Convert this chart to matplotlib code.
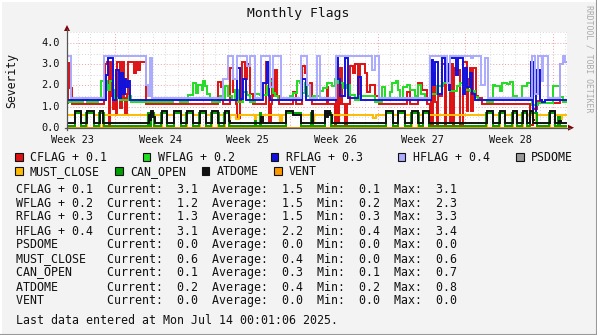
import numpy as np
import matplotlib
matplotlib.use("Agg")
import matplotlib.pyplot as plt
from matplotlib.patches import Rectangle, Polygon
from matplotlib.lines import Line2D

# ---- data (x = days since left edge of the graph, steps) ----
END = 39.9

hflag = [(0, 3.4), (0.3, 1.4), (2.95, 3.4), (6.32, 2.0), (6.45, 1.5), (6.62, 3.3), (6.8, 1.4),
         (12.45, 2.3), (12.9, 3.4), (13.3, 2.3), (13.57, 3.4), (14.43, 2.9), (14.65, 3.4),
         (15.05, 1.4), (15.55, 3.4), (16.24, 1.9), (16.5, 3.4), (17.15, 1.4), (18.72, 3.4),
         (19.17, 2.0), (19.45, 1.4), (19.97, 3.4), (20.2, 1.4), (21.52, 3.4), (24.37, 2.7),
         (24.62, 3.4), (24.95, 1.4), (29.04, 3.4), (30.37, 2.1), (30.6, 3.4), (32.3, 3.3),
         (32.45, 3.4), (33.1, 2.0), (33.42, 3.3), (33.65, 1.4), (37.17, 3.4), (37.44, 1.6),
         (37.68, 3.4), (37.97, 2.2), (38.1, 3.4), (38.45, 1.4), (39.45, 3.0), (39.68, 3.4),
         (39.8, 3.1)]

rflag = [(0, 1.32), (3.15, 2.5), (3.25, 3.3), (3.7, 1.3), (3.92, 2.7), (4.15, 1.4), (4.35, 2.6),
         (4.5, 1.6), (4.6, 2.3), (4.75, 1.9), (4.9, 2.2), (5.0, 1.32), (13.57, 2.8), (13.84, 1.35),
         (14.1, 2.3), (14.35, 1.32), (15.7, 2.1), (15.97, 3.1), (16.15, 1.5), (16.25, 1.32),
         (18.77, 2.3), (19.1, 1.32), (21.52, 3.3), (21.65, 2.3), (21.8, 1.5), (22.24, 3.3),
         (22.5, 1.4), (23.3, 2.4), (23.5, 1.32), (29.1, 3.2), (29.3, 2.0), (29.45, 3.1),
         (29.7, 1.6), (29.97, 3.3), (30.2, 2.2), (30.37, 3.0), (30.55, 1.8), (30.64, 3.3),
         (31.15, 2.5), (31.3, 3.3), (31.7, 1.6), (31.85, 2.8), (32.0, 1.9), (32.2, 2.6),
         (32.4, 1.6), (32.6, 1.32), (37.09, 3.1), (37.25, 0.35), (37.5, 2.7), (37.84, 1.3),
         (38.0, 1.2), (38.2, 1.32)]

cflag = [(0, 1.15), (0.1, 3.05), (0.25, 1.85), (0.42, 1.1), (2.92, 1.5), (3.05, 3.0), (3.2, 3.1),
         (3.35, 0.1), (3.42, 3.1), (3.55, 1.5), (3.7, 0.9), (3.85, 1.4), (3.95, 0.6), (4.02, 3.1),
         (4.2, 0.95), (4.4, 3.1), (4.55, 1.4), (4.64, 0.7), (4.8, 1.6), (4.9, 3.1), (5.36, 2.6),
         (5.52, 3.1), (5.7, 2.7), (5.8, 3.1), (6.3, 1.1), (12.1, 2.15), (12.35, 1.9), (12.5, 1.1),
         (13.04, 2.8), (13.25, 1.7), (13.5, 1.1), (13.63, 0.45), (13.84, 1.3), (13.97, 3.1),
         (14.24, 2.3), (14.43, 3.0), (14.64, 1.6), (14.9, 1.1), (15.95, 3.1), (16.15, 0.3),
         (16.3, 1.1), (16.37, 2.3), (16.55, 1.5), (16.64, 2.7), (16.8, 1.5), (16.95, 1.1),
         (18.1, 1.7), (18.3, 1.1), (18.77, 2.9), (19.04, 2.6), (19.17, 1.5), (19.45, 2.1),
         (19.6, 1.1), (20.77, 1.9), (20.9, 1.1), (21.44, 0.15), (21.55, 3.1), (21.65, 0.2),
         (21.75, 1.1), (21.84, 2.8), (21.97, 1.1), (22.24, 0.15), (22.37, 1.1), (22.64, 2.9),
         (22.9, 2.6), (23.05, 3.0), (23.3, 1.6), (23.45, 3.0), (23.84, 2.6), (23.97, 1.7),
         (24.24, 2.0), (24.64, 1.5), (24.95, 1.1), (27.17, 1.7), (27.44, 1.1), (28.1, 2.1),
         (28.37, 1.8), (28.77, 1.1), (29.04, 0.15), (29.12, 3.1), (29.2, 0.15), (29.3, 2.6),
         (29.45, 1.2), (29.6, 0.15), (29.7, 1.5), (29.97, 3.0), (30.24, 0.15), (30.35, 2.2),
         (30.5, 3.0), (30.6, 0.2), (30.7, 3.0), (30.85, 0.15), (30.95, 2.8), (31.04, 2.7),
         (31.44, 0.15), (31.7, 3.1), (31.97, 0.8), (32.1, 2.3), (32.24, 2.8), (32.35, 0.8),
         (32.45, 2.8), (32.7, 1.5), (32.9, 1.4), (33.17, 1.1), (37.04, 0.15), (37.3, 0.9),
         (37.63, 1.25), (37.84, 1.15), (39.44, 3.0), (39.7, 3.1)]

wflag = [(0, 1.2), (1.3, 1.37), (1.57, 1.2), (2.5, 1.37), (2.7, 2.2), (3.17, 2.0), (3.3, 1.8),
         (3.44, 2.2), (3.65, 1.8), (3.85, 1.4), (4.2, 1.32), (4.98, 1.5), (5.15, 1.2), (8.5, 1.3),
         (9.0, 1.2), (9.71, 1.56), (10.1, 2.1), (10.29, 1.65), (10.5, 2.0), (10.77, 1.8),
         (10.9, 2.2), (11.04, 1.95), (11.17, 1.6), (11.4, 1.4), (11.57, 1.2), (12.2, 1.5),
         (12.37, 1.32), (12.64, 1.95), (12.85, 1.5), (13.17, 1.32), (13.44, 1.8), (13.7, 1.2),
         (14.1, 1.7), (14.37, 1.55), (14.64, 1.2), (15.04, 1.6), (15.44, 1.55), (15.97, 1.95),
         (16.2, 2.2), (16.45, 1.65), (16.64, 1.5), (16.9, 1.32), (17.84, 1.48), (18.1, 1.65),
         (18.4, 2.2), (18.64, 2.1), (18.77, 1.65), (19.04, 2.1), (19.17, 1.48), (19.44, 1.4),
         (19.7, 1.48), (20.24, 1.72), (20.5, 1.87), (20.77, 2.1), (21.17, 1.95), (21.44, 2.3),
         (21.7, 2.1), (22.1, 1.87), (22.37, 2.0), (22.64, 1.56), (23.04, 1.32), (23.44, 1.48),
         (24.64, 1.2), (25.2, 1.9), (25.44, 1.3), (25.84, 1.7), (26.0, 2.1), (26.3, 2.2),
         (26.5, 1.8), (26.64, 1.4), (26.9, 1.9), (27.2, 2.0), (27.44, 1.8), (27.84, 1.5),
         (28.05, 2.0), (28.3, 1.6), (28.6, 1.32), (29.04, 1.6), (29.57, 1.95), (30.1, 2.1),
         (30.64, 1.75), (31.17, 1.95), (31.44, 2.1), (31.7, 1.8), (32.24, 1.72), (32.64, 1.45),
         (32.9, 1.32), (33.57, 1.22), (34.1, 2.0), (34.24, 1.95), (34.64, 1.75), (34.77, 2.1),
         (35.2, 2.05), (35.4, 2.15), (35.7, 1.5), (35.97, 1.32), (36.37, 1.95), (36.77, 2.1),
         (37.17, 1.05), (37.7, 1.16), (38.9, 1.95), (39.44, 1.45), (39.7, 1.2)]

psdome = [(0, 0.0)]

must_close = [(0, 0.6), (0.64, 0.0), (1.1, 0.6), (1.57, 0.0), (2.15, 0.6), (2.6, 0.0), (2.9, 0.6),
              (6.55, 0.0), (7.0, 0.6), (7.57, 0.0), (8.0, 0.6), (8.56, 0.0), (9.1, 0.6),
              (9.57, 0.0), (10.05, 0.6), (10.6, 0.0), (11.1, 0.6), (11.57, 0.0), (12.1, 0.6),
              (12.6, 0.0), (13.0, 0.6), (13.55, 0.4), (13.75, 0.6), (15.0, 0.35), (15.1, 0.6),
              (15.5, 0.3), (15.65, 0.6), (17.0, 0.33), (17.17, 0.6), (17.55, 0.0), (18.7, 0.6),
              (19.55, 0.3), (19.75, 0.6), (20.64, 0.0), (21.17, 0.6), (24.5, 0.45), (24.7, 0.6),
              (25.5, 0.0), (26.05, 0.6), (26.5, 0.0), (27.04, 0.6), (27.57, 0.0), (28.1, 0.6),
              (28.5, 0.0), (28.95, 0.6), (33.57, 0.0), (34.05, 0.6), (34.6, 0.0), (35.04, 0.6),
              (35.65, 0.0), (35.97, 0.6), (36.45, 0.0), (36.77, 0.6), (37.3, 0.2), (37.55, 0.6),
              (38.6, 0.0), (39.04, 0.6), (39.45, 0.4), (39.6, 0.6)]

can_open = [(0, 0.1), (0.62, 0.7), (1.12, 0.1), (1.55, 0.7), (2.17, 0.1), (2.58, 0.7), (2.92, 0.1),
            (6.5, 0.7), (6.6, 0.1), (6.7, 0.7), (6.95, 0.1), (7.55, 0.7), (8.02, 0.1), (8.54, 0.7),
            (9.12, 0.1), (9.55, 0.7), (10.07, 0.1), (10.58, 0.7), (11.12, 0.1), (11.55, 0.7),
            (12.12, 0.1), (12.58, 0.7), (12.97, 0.1), (15.0, 0.3), (15.1, 0.1), (15.45, 0.7),
            (15.55, 0.1), (17.53, 0.7), (18.7, 0.1), (19.5, 0.7), (19.68, 0.1), (20.62, 0.7),
            (21.15, 0.1), (25.48, 0.7), (26.07, 0.1), (26.48, 0.7), (27.06, 0.1), (27.55, 0.7),
            (28.12, 0.1), (28.48, 0.7), (28.97, 0.1), (33.55, 0.7), (34.07, 0.1), (34.58, 0.7),
            (35.06, 0.1), (35.63, 0.7), (35.99, 0.1), (36.43, 0.7), (36.79, 0.1), (37.02, 0.7),
            (37.6, 0.1), (38.58, 0.7), (39.06, 0.1), (39.3, 0.5), (39.45, 0.1)]

atdome = [(0, 0.2), (0.64, 0.8), (1.1, 0.2), (1.57, 0.8), (2.15, 0.2), (2.6, 0.8), (2.9, 0.2),
          (6.55, 0.6), (6.65, 0.35), (6.75, 0.8), (6.85, 0.5), (7.0, 0.2), (7.57, 0.8), (8.0, 0.2),
          (8.56, 0.8), (9.1, 0.2), (9.57, 0.8), (10.05, 0.2), (10.6, 0.8), (11.1, 0.2),
          (11.57, 0.8), (12.1, 0.2), (12.6, 0.8), (12.95, 0.3), (13.05, 0.2), (15.5, 0.5),
          (15.65, 0.2), (17.55, 0.8), (18.1, 0.6), (18.7, 0.2), (19.57, 0.8), (19.7, 0.2),
          (20.64, 0.8), (20.8, 0.5), (20.9, 0.8), (21.04, 0.6), (21.17, 0.2), (25.5, 0.8),
          (26.05, 0.2), (26.5, 0.8), (27.04, 0.2), (27.57, 0.8), (28.1, 0.2), (28.5, 0.8),
          (28.95, 0.2), (33.57, 0.8), (34.05, 0.2), (34.6, 0.8), (35.04, 0.2), (35.65, 0.8),
          (35.97, 0.2), (36.45, 0.8), (36.77, 0.2), (37.04, 0.8), (37.25, 0.2), (38.6, 0.8),
          (39.04, 0.2), (39.35, 0.3), (39.55, 0.2)]

vent = [(0, 0.0)]

series_names = ["CFLAG + 0.1", "WFLAG + 0.2", "RFLAG + 0.3", "HFLAG + 0.4", "PSDOME",
                "MUST_CLOSE", "CAN_OPEN", "ATDOME", "VENT"]
series_data = [cflag, wflag, rflag, hflag, psdome, must_close, can_open, atdome, vent]
series_colors = ["#DD1111", "#22DD22", "#1111DD", "#AAAAFF", "#999999",
                 "#FFBB00", "#00A000", "#111111", "#FF9900"]
current = [3.1, 1.2, 1.3, 3.1, 0.0, 0.6, 0.1, 0.2, 0.0]
average = [1.5, 1.5, 1.5, 2.2, 0.0, 0.4, 0.3, 0.4, 0.0]
minimum = [0.1, 0.2, 0.3, 0.4, 0.0, 0.0, 0.1, 0.2, 0.0]
maximum = [3.1, 2.3, 3.3, 3.4, 0.0, 0.6, 0.7, 0.8, 0.0]

week_labels = ["Week 23", "Week 24", "Week 25", "Week 26", "Week 27", "Week 28"]
y_ticks = [0.0, 1.0, 2.0, 3.0, 4.0]

W, H = 597, 335
BG = "#F3F3F3"
MONO = "DejaVu Sans Mono"


def fx(x):
    return x / W


def fy(y):
    return 1 - y / H


fig = plt.figure(figsize=(W / 100, H / 100), dpi=100, facecolor=BG)

# plot area: x 67..567 px, y 32..127.7 px
x0, x1, ytop, ybot = 67, 567, 32.3, 127.7
ax = fig.add_axes([fx(x0), fy(ybot), (x1 - x0) / W, (ybot - ytop) / H])
ax.set_facecolor("white")
ax.set_xlim(0, 40)
ax.set_ylim(0, 4.5)
for s in ax.spines.values():
    s.set_visible(False)
ax.set_xticks([])
ax.set_yticks([])

# grid
minor_x = np.arange(0.87, 40, 1.0)
major_x = np.arange(3.87, 40, 7.0)
for d in minor_x:
    if not np.any(np.isclose(d, major_x)):
        ax.axvline(d, color="#D8D8D8", lw=0.7, ls=(0, (1, 2)), zorder=0)
for d in major_x:
    ax.axvline(d, color="#EFA0A0", lw=0.7, ls=(0, (1, 2)), zorder=0)
for v in np.arange(0.5, 4.6, 1.0):
    ax.axhline(v, color="#D8D8D8", lw=0.7, ls=(0, (1, 2)), zorder=0)
for v in [1.0, 2.0, 3.0, 4.0]:
    ax.axhline(v, color="#EFA0A0", lw=0.7, ls=(0, (1, 2)), zorder=0)

# series
for data, col in zip(series_data, series_colors):
    t = [p[0] for p in data] + [END]
    v = [p[1] for p in data] + [data[-1][1]]
    ax.plot(t, v, drawstyle="steps-post", color=col, lw=1.4, zorder=2,
            solid_joinstyle="miter")

# axes lines and arrows
fig.add_artist(Line2D([fx(x0), fx(x0)], [fy(ybot + 2), fy(29)], color="#555555", lw=0.9))
fig.add_artist(Line2D([fx(x0 - 2), fx(570)], [fy(ybot), fy(ybot)], color="#555555", lw=0.9))
fig.add_artist(Polygon([[fx(x0 - 3), fy(31)], [fx(x0 + 3), fy(31)], [fx(x0), fy(25)]],
                       closed=True, color="#800000", lw=0))
fig.add_artist(Polygon([[fx(568), fy(ybot - 3)], [fx(568), fy(ybot + 3)], [fx(574), fy(ybot)]],
                       closed=True, color="#800000", lw=0))

# y tick labels
for v in y_ticks:
    py = ybot - v * (ybot - ytop) / 4.5
    fig.text(fx(60), fy(py), f"{v:.1f}", family=MONO, fontsize=7.4, ha="right",
             va="center", color="#111111")
# week labels
for i, lab in enumerate(week_labels):
    d = major_x[i] - 3.4
    px = x0 + d * (x1 - x0) / 40
    fig.text(fx(px), fy(140.5), lab, family=MONO, fontsize=7.4, ha="center",
             va="center", color="#111111")

# title, axis label, watermark
fig.text(fx(298), fy(13.5), "Monthly Flags", family=MONO, fontsize=9.4, ha="center",
         va="center", color="#111111")
fig.text(fx(11.5), fy(81), "Severity", family=MONO, fontsize=8.3, rotation=90,
         ha="center", va="center", color="#111111")
fig.text(fx(589), fy(59), "RRDTOOL / TOBI OETIKER", family=MONO, fontsize=5.9,
         rotation=270, ha="center", va="center", color="#AAAAAA")

# legend
legend_pos = [(15, 157), (142.5, 157), (270.5, 157), (397.5, 157), (516, 157),
              (15, 171.3), (115.3, 171.3), (201.8, 171.3), (274, 171.3)]
for (lx, ly), name, col in zip(legend_pos, series_names, series_colors):
    fig.add_artist(Rectangle((fx(lx), fy(ly + 4)), 7.5 / W, 8 / H, facecolor=col,
                             edgecolor="#111111", lw=0.8))
    fig.text(fx(lx + 15), fy(ly), name, family=MONO, fontsize=8.4, ha="left",
             va="center", color="#111111")

# statistics block
row_y = [189.3, 203.3, 216.9, 231.0, 244.8, 259.0, 272.8, 287.0, 300.8]
for name, cu, av, mn, mx, ry in zip(series_names, current, average, minimum, maximum, row_y):
    line = f"{name:<11}  Current:  {cu:.1f}  Average:  {av:.1f}  Min:  {mn:.1f}  Max:  {mx:.1f}"
    fig.text(fx(16), fy(ry), line, family=MONO, fontsize=8.4, ha="left", va="center",
             color="#111111")
fig.text(fx(16), fy(321), "Last data entered at Mon Jul 14 00:01:06 2025.", family=MONO,
         fontsize=8.4, ha="left", va="center", color="#111111")

# frame
fig.add_artist(Line2D([0, 1], [fy(0.5), fy(0.5)], color="white", lw=1.5))
fig.add_artist(Line2D([fx(0.5), fx(0.5)], [0, 1], color="white", lw=1.5))
fig.add_artist(Line2D([0, 1], [fy(334.5), fy(334.5)], color="#999999", lw=1.5))
fig.add_artist(Line2D([fx(596.5), fx(596.5)], [0, 1], color="#999999", lw=1.5))

fig.savefig("out.png", dpi=100, facecolor=BG)
